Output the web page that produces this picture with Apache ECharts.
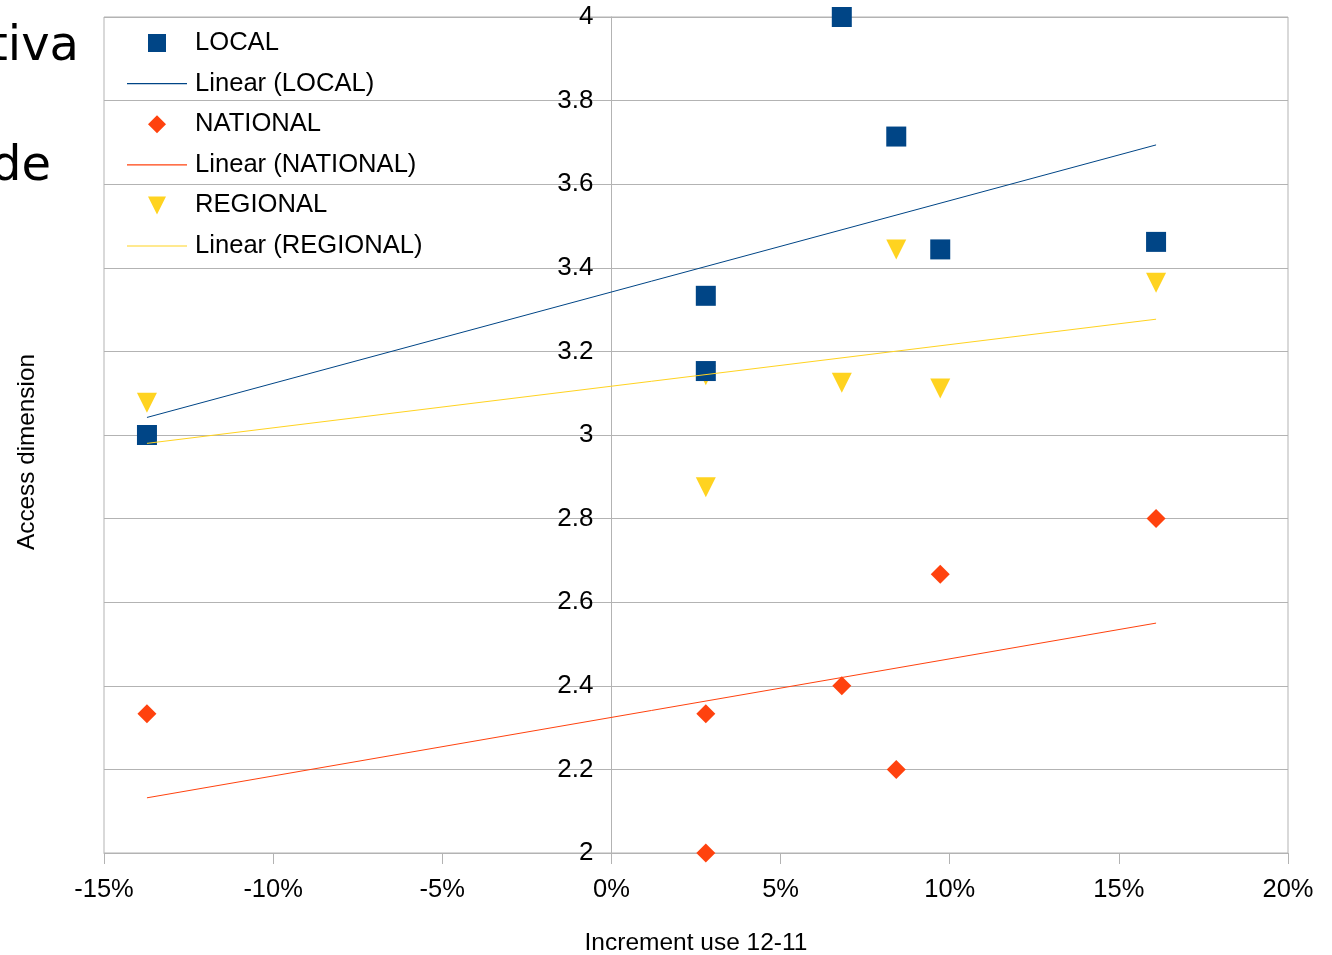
<!DOCTYPE html>
<html>
<head>
<meta charset="utf-8">
<script src="https://cdn.jsdelivr.net/npm/echarts@6/dist/echarts.min.js"></script>
<style>
html,body{margin:0;padding:0;background:#fff;}
#chart{width:1332px;height:955px;}
</style>
</head>
<body>
<div id="chart"></div>
<script>
// ---- data (x in %, y = access dimension) ----
const localX = [-13.73, 2.79, 2.79, 6.81, 8.42, 9.72, 16.1];
const localY = [3.0, 3.333, 3.153, 4.0, 3.714, 3.444, 3.462];
const nationalX = [-13.73, 2.79, 2.79, 6.81, 8.42, 9.72, 16.1];
const nationalY = [2.333, 2.333, 2.0, 2.4, 2.2, 2.667, 2.8];
const regionalX = [-13.73, 2.79, 2.79, 6.81, 8.42, 9.72, 16.1];
const regionalY = [3.077, 3.143, 2.875, 3.125, 3.444, 3.111, 3.364];
// trend line endpoints
const trendX = [-13.73, 16.1];
const localTrendY = [3.042, 3.694];
const nationalTrendY = [2.132, 2.550];
const regionalTrendY = [2.980, 3.277];
const xTicks = {min: -15, max: 20, interval: 5};
const yTicks = {min: 2, max: 4, interval: 0.2};

const names = ['LOCAL', 'Linear (LOCAL)', 'NATIONAL', 'Linear (NATIONAL)', 'REGIONAL', 'Linear (REGIONAL)'];
const colors = {local: '#004586', national: '#ff420e', regional: '#ffd320'};

const zip = (xs, ys) => xs.map((x, i) => [x, ys[i]]);
const font = 'Liberation Sans, Arial, sans-serif';

const gridLeft = 104, gridRight = 44;
const gridWidth = 1332 - gridLeft - gridRight;
// place the y axis at x = 0
const yAxisOffset = -gridWidth * (0 - xTicks.min) / (xTicks.max - xTicks.min);
const lineIcon = 'path://M0,0L60,0L60,1.2L0,1.2Z';

const chart = echarts.init(document.getElementById('chart'), null, {renderer: 'canvas'});
chart.setOption({
  animation: false,
  backgroundColor: '#ffffff',
  textStyle: {fontFamily: font},
  grid: {left: gridLeft, right: gridRight, top: 17, bottom: 102, show: true, borderColor: '#b3b3b3', borderWidth: 1,
         containLabel: false, outerBoundsMode: 'none'},
  legend: {
    orient: 'vertical', left: 122, top: 24,
    itemWidth: 60, itemHeight: 18, itemGap: 12.6,
    textStyle: {fontSize: 25.6, color: '#000', fontFamily: font, lineHeight: 28, padding: [0, 0, 0, 3]},
    data: [
      {name: names[0], icon: 'path://M0,0L10,0L10,10L0,10Z'},
      {name: names[1], icon: lineIcon},
      {name: names[2], icon: 'path://M5,0L10,5L5,10L0,5Z'},
      {name: names[3], icon: lineIcon},
      {name: names[4], icon: 'path://M0,0L10,0L5,10Z'},
      {name: names[5], icon: lineIcon}
    ]
  },
  xAxis: {
    type: 'value', min: xTicks.min, max: xTicks.max, interval: xTicks.interval,
    name: 'Increment use 12-11', nameLocation: 'middle', nameGap: 78,
    nameTextStyle: {fontSize: 24.5, color: '#000', fontFamily: font},
    axisLine: {show: true, onZero: false, lineStyle: {color: '#b3b3b3'}},
    axisTick: {show: true, length: 11, lineStyle: {color: '#b3b3b3'}},
    axisLabel: {formatter: '{value}%', fontSize: 25.5, color: '#000', margin: 24, fontFamily: font},
    splitLine: {show: false}
  },
  yAxis: {
    type: 'value', min: yTicks.min, max: yTicks.max, interval: yTicks.interval,
    position: 'left', offset: yAxisOffset,
    axisLine: {show: true, onZero: false, lineStyle: {color: '#b3b3b3'}},
    axisTick: {show: false},
    axisLabel: {fontSize: 26, color: '#000', margin: 18, fontFamily: font, padding: [4, 0, 0, 0]},
    splitLine: {show: true, lineStyle: {color: '#b3b3b3', width: 1}}
  },
  graphic: [
    {type: 'text', silent: true, x: 27, y: 452, rotation: Math.PI / 2,
     style: {text: 'Access dimension', fontSize: 24.3, fill: '#000', fontFamily: font, textAlign: 'center', textVerticalAlign: 'middle'}},
    {type: 'text', silent: true, x: 79, y: 48,
     style: {text: 'tiva', fontSize: 48, fill: '#000', fontFamily: 'DejaVu Sans', textAlign: 'right', textVerticalAlign: 'middle'}},
    {type: 'text', silent: true, x: 51, y: 168,
     style: {text: 'de', fontSize: 48, fill: '#000', fontFamily: 'DejaVu Sans', textAlign: 'right', textVerticalAlign: 'middle'}}
  ],
  series: [
    {name: names[4], type: 'scatter', data: zip(regionalX, regionalY), symbol: 'triangle', symbolRotate: 180, symbolSize: [20, 20],
     itemStyle: {color: colors.regional, opacity: 1}, z: 2},
    {name: names[2], type: 'scatter', data: zip(nationalX, nationalY), symbol: 'diamond', symbolSize: [19, 19],
     itemStyle: {color: colors.national, opacity: 1}, z: 2},
    {name: names[0], type: 'scatter', data: zip(localX, localY), symbol: 'rect', symbolSize: [20, 20],
     itemStyle: {color: colors.local, opacity: 1}, z: 2},
    {name: names[1], type: 'line', data: zip(trendX, localTrendY), symbol: 'none', lineStyle: {color: colors.local, width: 1}, itemStyle: {color: colors.local}, z: 3},
    {name: names[3], type: 'line', data: zip(trendX, nationalTrendY), symbol: 'none', lineStyle: {color: colors.national, width: 1}, itemStyle: {color: colors.national}, z: 3},
    {name: names[5], type: 'line', data: zip(trendX, regionalTrendY), symbol: 'none', lineStyle: {color: colors.regional, width: 1}, itemStyle: {color: colors.regional}, z: 3}
  ]
});
</script>
</body>
</html>
